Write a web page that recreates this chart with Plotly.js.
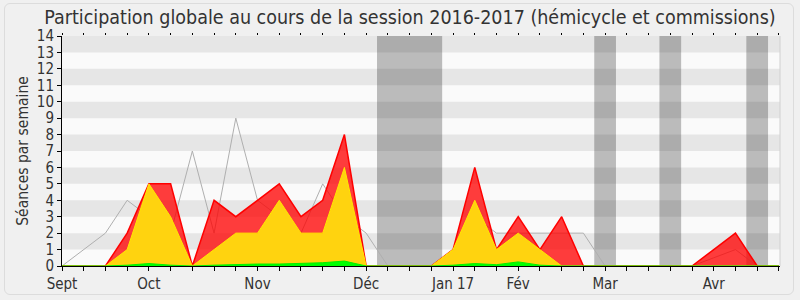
<!DOCTYPE html>
<html><head><meta charset="utf-8">
<script src="https://cdn.plot.ly/plotly-3.0.1.min.js"></script>
<style>
html,body{margin:0;padding:0;background:#F0F0F0;}
#c{width:800px;height:300px;position:absolute;left:0;top:0;}
#frame{position:absolute;left:4px;top:3px;width:788px;height:290px;border:1px solid #DCDCDC;border-radius:6px;pointer-events:none;}
</style>
</head><body><div id="c"></div><div id="frame"></div>
<script>
// week index from start of session (Sept 2016)
const weeks = [0,1,2,3,4,5,6,7,8,9,10,11,12,13,14,15,16,17,18,19,20,21,22,23,24,25,26,27,28,29,30,31,32,33];
// total séances (gray line)
const totalSeances = [0,1,2,4,3,2,7,2,9,4,3,2,5,3,2,0,0,0,1,3,2,2,2,2,2,0,0,0,0,0,0.5,1,0,0];
// présences (red)
const presences = [0,0,0,2,5,5,0,4,3,4,5,3,4,8,0,0,0,0,1,6,1,3,1,3,0,0,0,0,0,0,1,2,0,0];
// présences en commission (yellow)
const commissions = [0,0,0,1,5,3,0,1,2,2,4,2,2,6,0,0,0,0,1,4,1,2,1,0,0,0,0,0,0,0,0,0,0,0];
// interventions / hémicycle (green)
const hemicycle = [0,0,0,0.05,0.15,0.05,0,0.05,0.1,0.12,0.12,0.15,0.2,0.3,0,0,0,0,0.05,0.15,0.08,0.25,0.05,0,0,0,0,0,0,0,0,0,0,0];
// vacances parlementaires (gray bands), in weeks
const vacStart = [14.5,24.5,27.5,31.5];
const vacEnd   = [17.5,25.5,28.5,32.5];
// month tick labels
const monthWeeks  = [0,4,9,14,18,21,25,30];
const monthLabels = ['Sept','Oct','Nov','Déc','Jan 17','Fév','Mar','Avr'];

const FONT = '"DejaVu Sans Condensed", "DejaVu Sans", sans-serif';
const tickText = weeks.map(w => { const i = monthWeeks.indexOf(w); return i >= 0 ? monthLabels[i] : ''; });

const traces = [
  {x: weeks, y: totalSeances, type:'scatter', mode:'lines', line:{color:'#AFAFAF', width:1}, hoverinfo:'skip', showlegend:false},
  {x: weeks, y: presences, type:'scatter', mode:'lines', fill:'tozeroy', fillcolor:'rgba(255,0,0,0.76)', line:{color:'#FF0000', width:1.5}, hoverinfo:'skip', showlegend:false},
  {x: weeks, y: commissions, type:'scatter', mode:'lines', fill:'tozeroy', fillcolor:'#FFD30F', line:{color:'#FFE800', width:1}, hoverinfo:'skip', showlegend:false},
  {x: weeks, y: hemicycle, type:'scatter', mode:'lines', fill:'tozeroy', fillcolor:'#00FF00', line:{color:'#00EE00', width:1}, hoverinfo:'skip', showlegend:false},
  {x: [0], y: [0], xaxis:'x2', type:'scatter', mode:'markers', marker:{opacity:0}, hoverinfo:'skip', showlegend:false}
];

const shapes = [];
for (let k = 1; k < 14; k += 2) {
  shapes.push({type:'rect', layer:'below', xref:'paper', yref:'y', x0:0, x1:1, y0:k, y1:k+1, fillcolor:'#E6E6E6', line:{width:0}});
}
for (let i = 0; i < vacStart.length; i++) {
  shapes.push({type:'rect', layer:'below', xref:'x', yref:'paper', x0:vacStart[i], x1:vacEnd[i], y0:0, y1:1, fillcolor:'rgba(0,0,0,0.25)', line:{width:0}});
}
shapes.push({type:'line', layer:'above', xref:'paper', yref:'paper', x0:1, x1:1, y0:0, y1:1, line:{color:'#D0D0D0', width:1}});

const layout = {
  width:800, height:300,
  margin:{l:62, r:20, t:36, b:34},
  paper_bgcolor:'#F0F0F0', plot_bgcolor:'#FAFAFA',
  font:{family:FONT, color:'#333333', size:15},
  title:{text:'Participation globale au cours de la session 2016-2017 (hémicycle et commissions)', font:{family:FONT, size:19.5, color:'#333333'}, xref:'container', x:0.5125, xanchor:'center', yref:'container', y:0.966, yanchor:'top'},
  xaxis:{range:[0,33.05], tickmode:'array', tickvals:weeks, ticktext:tickText, ticks:'outside', ticklen:4, tickcolor:'#000', showline:true, linecolor:'#000', linewidth:1, showgrid:false, zeroline:false, tickfont:{family:FONT, size:15, color:'#333333'}, fixedrange:true},
  xaxis2:{overlaying:'x', side:'top', range:[0,33.05], tickmode:'array', tickvals:weeks, ticktext:weeks.map(()=>''), ticks:'outside', ticklen:2, tickcolor:'#000', showline:false, showgrid:false, zeroline:false, showticklabels:false},
  yaxis:{range:[0,14], dtick:1, tick0:0, ticks:'outside', ticklen:4, tickcolor:'#000', showline:true, linecolor:'#000', linewidth:1, showgrid:false, zeroline:false, tickfont:{family:FONT, size:15, color:'#333333'}, title:{text:'Séances par semaine', font:{family:FONT, size:15.5, color:'#333333'}, standoff:4}, fixedrange:true},
  shapes: shapes,
  showlegend:false
};
Plotly.newPlot('c', traces, layout, {displayModeBar:false, staticPlot:true});
</script>
</body></html>
